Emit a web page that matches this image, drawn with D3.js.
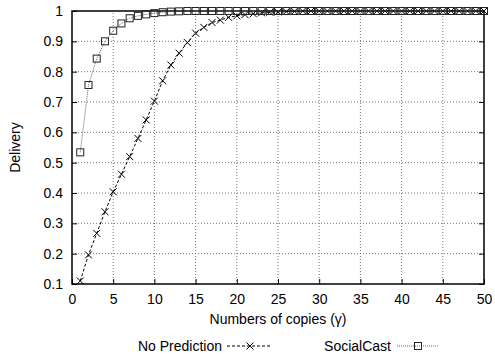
<!DOCTYPE html>
<html>
<head>
<meta charset="utf-8">
<script src="https://cdn.jsdelivr.net/npm/d3@7"></script>
<style>
  body { margin: 0; background: #fff; }
  text { font-family: "Liberation Sans", Arial, sans-serif; font-size: 14px; fill: #000; }
</style>
</head>
<body>
<div id="chart"></div>
<script>
// number of copies (x)
const copies = d3.range(1, 51);

// delivery
const noPrediction = [
  0.11, 0.196, 0.267, 0.338, 0.404, 0.462, 0.52, 0.58, 0.641, 0.703,
  0.77, 0.822, 0.861, 0.896, 0.927, 0.946, 0.962, 0.970, 0.979, 0.984,
  0.988, 0.991, 0.994, 0.996, 0.997, 0.998, 0.999, 1, 1, 1,
  1, 1, 1, 1, 1, 1, 1, 1, 1, 1,
  1, 1, 1, 1, 1, 1, 1, 1, 1, 1
];
const socialCast = [
  0.534, 0.756, 0.843, 0.9, 0.935, 0.959, 0.976, 0.984, 0.989, 0.993,
  0.996, 0.998, 0.999, 1, 1, 1, 1, 1, 1, 1,
  1, 1, 1, 1, 1, 1, 1, 1, 1, 1,
  1, 1, 1, 1, 1, 1, 1, 1, 1, 1,
  1, 1, 1, 1, 1, 1, 1, 1, 1, 1
];

const xTicks = d3.range(0, 51, 5);
const yTicks = [0.1, 0.2, 0.3, 0.4, 0.5, 0.6, 0.7, 0.8, 0.9, 1];

const width = 495, height = 356;
const m = { left: 72, right: 11, top: 11, bottom: 72 };

const svg = d3.select("#chart").append("svg")
  .attr("width", width).attr("height", height);

const x = d3.scaleLinear().domain([0, 50]).range([m.left, width - m.right]);
const y = d3.scaleLinear().domain([0.1, 1]).range([height - m.bottom, m.top]);

// grid (dotted)
svg.append("g").selectAll("line")
  .data(xTicks.slice(1, -1)).enter().append("line")
  .attr("x1", d => x(d)).attr("x2", d => x(d))
  .attr("y1", y(0.1)).attr("y2", y(1))
  .attr("stroke", "#777").attr("stroke-dasharray", "1,2");
svg.append("g").selectAll("line")
  .data(yTicks.slice(1, -1)).enter().append("line")
  .attr("y1", d => y(d)).attr("y2", d => y(d))
  .attr("x1", x(0)).attr("x2", x(50))
  .attr("stroke", "#777").attr("stroke-dasharray", "1,2");

// axes: ticks inward, labels outside
const xAxis = d3.axisBottom(x).tickValues(xTicks).tickSize(-5).tickPadding(10).tickFormat(d3.format("d"));
const yAxis = d3.axisLeft(y).tickValues(yTicks).tickSize(-5).tickPadding(9).tickFormat(d => d === 1 ? "1" : d3.format(".1f")(d));
const yAxisR = d3.axisRight(y).tickValues(yTicks).tickSize(-5).tickFormat("");

svg.append("g").attr("transform", `translate(0,${y(0.1)})`).call(xAxis)
  .call(g => g.select(".domain").remove());
svg.append("g").attr("transform", `translate(${x(0)},0)`).call(yAxis)
  .call(g => g.select(".domain").remove());
svg.append("g").attr("transform", `translate(${x(50)},0)`).call(yAxisR)
  .call(g => g.select(".domain").remove());
svg.selectAll(".tick text").style("font-size", "14px").attr("fill", "#000");
svg.selectAll(".tick line").attr("stroke", "#000");

// frame
svg.append("rect")
  .attr("x", x(0)).attr("y", y(1))
  .attr("width", x(50) - x(0)).attr("height", y(0.1) - y(1))
  .attr("fill", "none").attr("stroke", "#000").attr("stroke-width", 1.5);

// axis titles
svg.append("text").attr("x", (x(0) + x(50)) / 2).attr("y", 324)
  .attr("text-anchor", "middle").text("Numbers of copies (\u03b3)");
svg.append("text")
  .attr("transform", `translate(20,${(y(1) + y(0.1)) / 2}) rotate(-90)`)
  .attr("text-anchor", "middle").text("Delivery");

const line = d3.line().x((d, i) => x(copies[i])).y(d => y(d));

// markers
function crossPath(cx, cy, s) {
  return `M${cx - s},${cy - s}L${cx + s},${cy + s}M${cx - s},${cy + s}L${cx + s},${cy - s}`;
}
function drawCross(g, cx, cy) {
  g.append("path").attr("d", crossPath(cx, cy, 3.5))
    .attr("stroke", "#000").attr("stroke-width", 1).attr("fill", "none");
}
function drawSquare(g, cx, cy) {
  g.append("rect").attr("x", cx - 3.5).attr("y", cy - 3.5)
    .attr("width", 7).attr("height", 7)
    .attr("fill", "none").attr("stroke", "#222").attr("stroke-width", 1);
}

// No Prediction
const g1 = svg.append("g");
g1.append("path").datum(noPrediction).attr("d", line)
  .attr("fill", "none").attr("stroke", "#000").attr("stroke-dasharray", "3,2");
noPrediction.forEach((v, i) => drawCross(g1, x(copies[i]), y(v)));

// SocialCast
const g2 = svg.append("g");
g2.append("path").datum(socialCast).attr("d", line)
  .attr("fill", "none").attr("stroke", "#666").attr("stroke-dasharray", "1,1");
socialCast.forEach((v, i) => drawSquare(g2, x(copies[i]), y(v)));

// legend
const ly = 346;
svg.append("text").attr("x", 222).attr("y", ly + 5).attr("text-anchor", "end").text("No Prediction");
svg.append("line").attr("x1", 227).attr("x2", 271).attr("y1", ly).attr("y2", ly)
  .attr("stroke", "#000").attr("stroke-dasharray", "3,2");
drawCross(svg, 250, ly);
svg.append("text").attr("x", 391).attr("y", ly + 5).attr("text-anchor", "end").text("SocialCast");
svg.append("line").attr("x1", 397).attr("x2", 439).attr("y1", ly).attr("y2", ly)
  .attr("stroke", "#666").attr("stroke-dasharray", "1,1");
drawSquare(svg, 418, ly);
</script>
</body>
</html>
